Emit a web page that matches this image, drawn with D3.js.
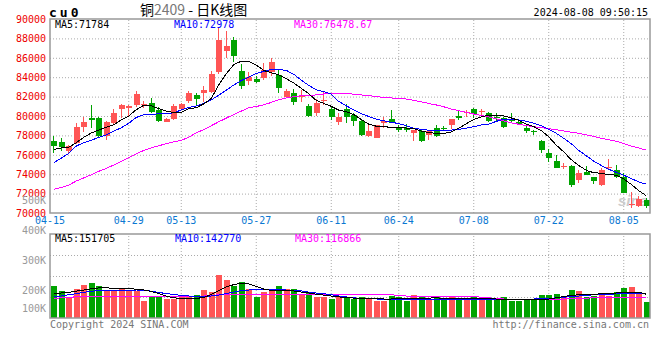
<!DOCTYPE html>
<html>
<head>
<meta charset="utf-8">
<script src="https://cdn.jsdelivr.net/npm/d3@7"></script>
<style>
  body { margin: 0; background: #fff; }
  svg { display: block; }
  text { font-family: "DejaVu Sans Mono", monospace; font-size: 10px; }
</style>
</head>
<body>
<svg id="chart" width="660" height="360"></svg>
<script>
// trading days shown (04-15 .. 08-08)
const dates = [
  '04-15','04-16','04-17','04-18','04-19','04-22','04-23','04-24','04-25','04-26',
  '04-29','04-30','05-06','05-07','05-08','05-09','05-10',
  '05-13','05-14','05-15','05-16','05-17','05-20','05-21','05-22','05-23','05-24',
  '05-27','05-28','05-29','05-30','05-31','06-03','06-04','06-05','06-06','06-07',
  '06-11','06-12','06-13','06-14','06-17','06-18','06-19','06-20','06-21',
  '06-24','06-25','06-26','06-27','06-28','07-01','07-02','07-03','07-04','07-05',
  '07-08','07-09','07-10','07-11','07-12','07-15','07-16','07-17','07-18','07-19',
  '07-22','07-23','07-24','07-25','07-26','07-29','07-30','07-31','08-01','08-02',
  '08-05','08-06','08-07','08-08'
];

const open = [
  77420,77320,76390,77250,78900,79820,79790,77940,79310,80690,
  80790,81130,81100,81370,80620,79410,79660,80720,81580,82160,
  82400,82500,84500,86730,87830,84640,83640,83810,83890,84570,
  84230,81930,82340,81930,81030,80340,81510,80720,79410,80720,
  80100,79480,77940,77760,79250,79660,78830,78790,78280,78450,
  78040,78730,78800,79070,80030,80280,80720,80400,80280,79900,
  79760,79560,79410,78790,78480,77420,76150,75390,74750,74850,
  73400,74260,73680,72890,74610,74430,73740,70820,70720,71340
];
const high = [
  77970,77700,77040,79310,79930,81140,79900,79510,80690,81240,
  81130,82610,81500,81820,80900,79800,81240,81340,82580,82400,
  83090,84670,89040,88800,88180,85330,84570,84120,85430,86010,
  84810,82780,82750,82680,81240,81720,82500,80960,80340,81210,
  80310,79590,79070,79100,79930,80620,79070,79170,78560,78560,
  78560,79070,79000,79660,80620,80620,80860,80720,80440,80300,
  79930,80280,79660,79000,78560,77530,76570,75980,75120,74950,
  74430,74850,73740,74610,75540,74950,74090,72200,71750,71550
];
const low = [
  76220,76420,76190,77110,78380,78760,77700,77530,79070,79820,
  79900,80960,80800,80340,79410,79350,79590,80620,81370,81130,
  81470,82400,84330,85950,85600,82750,83200,83430,83710,84150,
  82400,81860,81130,81470,79930,80000,81130,79590,79070,79250,
  79000,77940,77800,77760,78730,79250,78380,78380,77450,77290,
  77530,77870,78450,78660,79590,79930,79760,80100,79380,79500,
  78790,79250,79070,78280,78040,76220,75290,74610,74500,72710,
  73120,73920,72960,72780,74500,73580,72030,70520,70650,70520
];
const close = [
  76900,76770,76910,78900,79410,79560,77940,79380,80280,81130,
  81060,82270,81200,80440,79520,79690,81060,81210,82400,81750,
  82680,84330,87830,87220,86220,83090,84050,83540,84740,85600,
  82860,82610,81470,82060,80000,81310,81650,79870,79930,79930,
  79480,78040,78480,79070,79480,79310,78560,78560,78560,77450,
  78480,77940,78730,79660,79820,80440,80210,80480,79520,79800,
  78900,79480,79170,78480,78400,76490,75640,74670,74850,72890,
  74150,73920,73300,74430,74770,73680,72090,70930,71410,70720
];

// moving averages
const ma5 = [
  76550,76700,76780,77250,77800,78250,78550,78850,79100,79600,
  80000,80650,81100,81050,80750,80500,80350,80350,80750,80850,
  81250,81800,83200,84350,85300,85650,85650,85250,84700,84450,
  84250,83850,83400,82850,82300,81600,81300,81000,80600,80450,
  80150,79650,79150,78950,78880,78850,78820,78760,78700,78450,
  78300,78200,78200,78350,78750,79200,79650,79900,80100,80050,
  80000,79800,79550,79150,78900,78500,77850,77000,76300,75500,
  74900,74400,74150,74100,73950,73900,73500,72950,72300,71784
];
const ma10 = [
  75200,75650,76150,76900,77250,77500,77800,78050,78450,78780,
  79250,79850,80130,80180,80220,80250,80330,80620,80880,81030,
  81300,81650,82150,82650,83200,83650,84000,84380,84600,84800,
  84810,84700,84300,83700,83150,82700,82520,82250,81500,81050,
  80620,80250,79950,79680,79500,79350,79220,79000,78750,78620,
  78530,78480,78500,78550,78630,78740,78900,79070,79150,79450,
  79650,79650,79600,79450,79250,79000,78600,78220,77700,77150,
  76450,75900,75350,74900,74500,74200,73900,73550,73200,72978
];
const ma30 = [
  72450,72620,72870,73300,73620,73940,74300,74600,74950,75330,
  75720,76100,76450,76720,76930,77150,77330,77480,77830,78250,
  78600,79000,79400,79780,80150,80500,80850,80980,81150,81400,
  81680,81850,82000,82080,82130,82170,82270,82330,82340,82320,
  82250,82170,82100,82000,81920,81860,81810,81750,81620,81460,
  81290,81140,80950,80720,80550,80380,80200,80050,79900,79700,
  79500,79300,79150,79000,78900,78800,78700,78580,78450,78330,
  78230,78050,77900,77700,77550,77400,77150,76900,76700,76479
];

// volume in thousands
const volume = [
  213,198,176,203,217,223,213,198,198,207,
  198,198,164,178,181,170,170,181,178,183,
  201,194,250,233,213,226,202,178,192,202,
  213,202,202,183,191,178,178,170,176,176,
  170,176,170,164,164,181,176,164,183,178,
  170,176,170,178,170,170,176,170,170,170,
  176,164,164,170,170,183,183,187,176,200,
  198,178,180,190,180,194,208,211,189,161
];
const vma5 = [
  189,190,192,196,200,204,207,207,206,205,
  204,203,200,195,188,180,174,172,171,172,
  175,185,198,210,218,222,220,212,203,199,
  198,198,197,193,190,186,183,180,177,175,
  173,173,173,172,170,170,171,171,172,172,
  173,174,172,172,172,172,171,171,171,170,
  170,169,168,168,168,167,170,174,178,182,
  184,186,186,187,189,190,192,192,193,186
];
const vma10 = [
  178,180,184,188,192,196,198,200,200,200,
  200,200,199,196,192,188,185,182,180,179,
  178,180,183,188,193,198,200,201,201,201,
  201,200,198,197,193,190,188,184,180,177,
  174,172,171,170,169,169,168,168,168,168,
  168,168,168,168,168,168,168,168,168,168,
  168,168,168,169,170,171,172,174,176,178,
  180,182,184,185,186,187,188,188,189,188
];
const vma30 = [
  172,174,176,177,178,180,180,180,180,180,
  180,180,180,180,180,180,180,180,180,180,
  180,182,184,185,186,186,186,186,186,186,
  186,186,186,186,186,186,186,186,186,186,
  186,186,186,186,186,184,182,180,178,178,
  178,178,178,178,178,178,178,176,174,172,
  170,170,170,170,170,170,170,170,170,171,
  172,173,174,174,174,174,174,174,174,174
];

const priceTicks = [70000,72000,74000,76000,78000,80000,82000,84000,86000,88000,90000];
const volTicks = [100,200,300,400,500];
const dateTicks = ['04-15','04-29','05-13','05-27','06-11','06-24','07-08','07-22','08-05'];

const RED = '#ff5555', GREEN = '#00a300', GRID = '#aaaaaa', BORDER = '#999999';
const left = 50, right = 650, mainTop = 19, mainBottom = 213, volTop = 234, volBottom = 318;

const svg = d3.select('#chart');
const idx = d3.range(dates.length);

const x = d3.scaleBand().domain(dates).range([left, right]);
const cx = d => x(d) + x.bandwidth() / 2;
const y = d3.scaleLinear().domain([70000, 90000]).range([mainBottom, mainTop]);
const vy = d3.scaleLinear().domain([100, 500]).range([320, 200]);
const vq = d3.scaleLinear().domain([0, 4]).range([volBottom, volTop]);

// --- grids
function dotted(g) {
  g.select('.domain').remove();
  g.selectAll('line').attr('stroke', GRID).attr('stroke-dasharray', '1,2');
}
svg.append('g')
  .attr('transform', `translate(${left},0)`)
  .call(d3.axisLeft(y).tickValues(priceTicks.slice(1, -1)).tickSize(-(right - left)).tickFormat(''))
  .call(dotted);
svg.append('g')
  .attr('transform', `translate(0,${mainBottom})`)
  .call(d3.axisBottom(x).tickValues(dateTicks.slice(1)).tickSize(-(mainBottom - mainTop)).tickFormat(''))
  .call(dotted);
svg.append('g')
  .attr('transform', `translate(${left},0)`)
  .call(d3.axisLeft(vq).tickValues([1, 2, 3]).tickSize(-(right - left)).tickFormat(''))
  .call(dotted);
svg.append('g')
  .attr('transform', `translate(0,${volBottom})`)
  .call(d3.axisBottom(x).tickValues(dateTicks.slice(1)).tickSize(-(volBottom - volTop)).tickFormat(''))
  .call(dotted);

// --- price axis labels
const py = svg.append('g')
  .attr('transform', `translate(${left},0)`)
  .call(d3.axisLeft(y).tickValues(priceTicks).tickSize(0).tickPadding(4).tickFormat(d3.format('d')));
py.select('.domain').remove();
py.selectAll('text').attr('fill', '#ee0000').style('font-size', '10px').style('font-family', '"DejaVu Sans Mono", monospace');

// --- volume axis labels
const vyAxis = svg.append('g')
  .attr('transform', `translate(${left},0)`)
  .call(d3.axisLeft(vy).tickValues(volTicks).tickSize(0).tickPadding(4).tickFormat(d => d + 'K'));
vyAxis.select('.domain').remove();
vyAxis.selectAll('text').attr('fill', '#999999').style('font-size', '10px').style('font-family', '"DejaVu Sans Mono", monospace');
// lowest label is pushed up above the footer
vyAxis.selectAll('.tick').filter(d => d === 100)
  .attr('transform', `translate(0,${Math.min(vy(100), volBottom - 9)})`);

// --- date labels
const xa = svg.append('g')
  .attr('transform', `translate(0,${mainBottom})`)
  .call(d3.axisBottom(x).tickValues(dateTicks).tickSize(0).tickPadding(4));
xa.select('.domain').remove();
xa.selectAll('text').attr('fill', '#0a78d2').style('font-size', '10px').style('font-family', '"DejaVu Sans Mono", monospace');
xa.selectAll('.tick').filter(d => d === '04-15').attr('transform', `translate(${left},0)`);

// --- watermark
svg.append('text').attr('x', 618).attr('y', 206)
  .attr('fill', '#cccccc').attr('font-style', 'italic').attr('font-weight', 'bold')
  .style('font-size', '15px').style('font-family', 'Arial, sans-serif').text('sina');

// --- candles
const up = i => close[i] >= open[i];
const bx = i => Math.round(x(dates[i])) + 1;
const candles = svg.append('g').attr('shape-rendering', 'crispEdges');
candles.selectAll('rect.wick').data(idx).join('rect')
  .attr('class', 'wick')
  .attr('x', i => bx(i) + 2)
  .attr('width', 1)
  .attr('y', i => Math.round(y(high[i])))
  .attr('height', i => Math.max(1, Math.round(y(low[i])) - Math.round(y(high[i]))))
  .attr('fill', i => up(i) ? RED : GREEN);
candles.selectAll('rect.body').data(idx).join('rect')
  .attr('class', 'body')
  .attr('x', i => bx(i))
  .attr('width', 6)
  .attr('y', i => Math.round(y(Math.max(open[i], close[i]))))
  .attr('height', i => Math.max(1, Math.round(y(Math.min(open[i], close[i]))) - Math.round(y(Math.max(open[i], close[i])))))
  .attr('fill', i => up(i) ? RED : GREEN);

// --- volume bars
svg.append('g').attr('shape-rendering', 'crispEdges')
  .selectAll('rect').data(idx).join('rect')
  .attr('x', i => bx(i))
  .attr('width', 6)
  .attr('y', i => Math.round(vy(volume[i])))
  .attr('height', i => volBottom - Math.round(vy(volume[i])))
  .attr('fill', i => up(i) ? RED : GREEN);

// --- moving average lines
function maLine(values, scale, color) {
  svg.append('path')
    .datum(values)
    .attr('fill', 'none')
    .attr('stroke', color)
    .attr('stroke-width', 1)
    .attr('shape-rendering', 'crispEdges')
    .attr('d', d3.line().x((d, i) => cx(dates[i])).y(d => scale(d)));
}
maLine(ma30, y, '#ff00ff');
maLine(ma10, y, '#0000ff');
maLine(ma5, y, '#000000');
maLine(vma30, vy, '#ff00ff');
maLine(vma10, vy, '#0000ff');
maLine(vma5, vy, '#000000');

// --- panel borders
[[mainTop, mainBottom], [volTop, volBottom]].forEach(([t, b]) => {
  svg.append('rect')
    .attr('x', left).attr('y', t).attr('width', right - left).attr('height', b - t)
    .attr('fill', 'none').attr('stroke', BORDER).attr('stroke-width', 1.5);
});

// --- legends and titles
function label(txt, xPos, yPos, color, anchor) {
  return svg.append('text').attr('x', xPos).attr('y', yPos)
    .attr('fill', color).attr('text-anchor', anchor || 'start').text(txt);
}
label('MA5:' + ma5[ma5.length - 1], 55, 28, '#000000');
label('MA10:' + ma10[ma10.length - 1], 174, 28, '#0000ff');
label('MA30:76478.67', 294, 28, '#ff00ff');
label('MA5:151705', 55, 242, '#000000');
label('MA10:142770', 175, 242, '#0000ff');
label('MA30:116866', 295, 242, '#ff00ff');

label('cu0', 49, 17, '#000000').style('font-size', '13px').attr('font-weight', 'bold').attr('letter-spacing', 3);
const title = svg.append('text').attr('x', 140).attr('y', 15)
  .style('font-family', '"Noto Sans CJK SC", sans-serif').style('font-size', '14px');
title.append('tspan').attr('fill', '#000').text('铜');
title.append('tspan').attr('fill', '#777').text('2409');
title.append('tspan').attr('fill', '#000').text(' -  日K线图');
label('2024-08-08 09:50:15', 648, 16, '#000000', 'end');

label('Copyright 2024 SINA.COM', 50, 328, '#777777');
label('http://finance.sina.com.cn', 649, 328, '#777777', 'end');
</script>
</body>
</html>
